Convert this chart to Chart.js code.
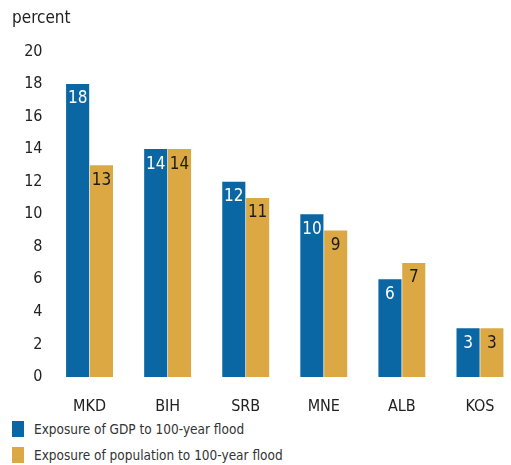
<!DOCTYPE html>
<html>
<head>
<meta charset="utf-8">
<script src="https://cdn.jsdelivr.net/npm/chart.js@4"></script>
<style>
  html, body { margin: 0; padding: 0; background: #fff; overflow: hidden; }
  body { width: 511px; }
  .wrap { position: relative; width: 519px; height: 418px; }
  .legend { font-family: "Liberation Sans Narrow", "DejaVu Sans Condensed", sans-serif; font-size: 13.5px; color: #333; margin-left: 12px; margin-top: -2px; }
  .legend__item { display: flex; align-items: center; height: 26px; }
  .legend__box { width: 12px; height: 16px; margin-right: 10px; }
</style>
</head>
<body>
<div class="wrap"><canvas id="chart1"></canvas></div>
<div class="legend" id="legend"></div>
<script>
// data
const countries = ['MKD', 'BIH', 'SRB', 'MNE', 'ALB', 'KOS'];
const gdpExposure = [18, 14, 12, 10, 6, 3];
const popExposure = [13, 14, 11, 9, 7, 3];
const seriesNames = ['Exposure of GDP to 100-year flood', 'Exposure of population to 100-year flood'];
const yTicks = [0, 2, 4, 6, 8, 10, 12, 14, 16, 18, 20];

const blue = '#0a67a3';
const gold = '#dba844';
const fontFamily = '"Liberation Sans Narrow", "DejaVu Sans Condensed", sans-serif';

// labels inside the top of each bar
const barLabels = {
    id: 'barLabels',
    afterDatasetsDraw(chart) {
        const ctx = chart.ctx;
        ctx.save();
        ctx.font = '17px ' + fontFamily;
        ctx.textAlign = 'center';
        ctx.textBaseline = 'middle';
        chart.data.datasets.forEach((ds, i) => {
            const meta = chart.getDatasetMeta(i);
            ctx.fillStyle = i === 0 ? '#fff' : '#1a1a1a';
            meta.data.forEach((bar, j) => {
                ctx.fillText(ds.data[j], bar.x, bar.y + 15);
            });
        });
        ctx.restore();
    }
};

const ctx = document.getElementById('chart1');
const chart1 = new Chart(ctx, {
    type: 'bar',
    data: {
        labels: countries,
        datasets: [{
            label: seriesNames[0],
            data: gdpExposure,
            backgroundColor: blue,
            categoryPercentage: 0.61,
            barPercentage: 0.97
        }, {
            label: seriesNames[1],
            data: popExposure,
            backgroundColor: gold,
            categoryPercentage: 0.61,
            barPercentage: 0.97
        }]
    },
    options: {
        responsive: true,
        maintainAspectRatio: false,
        animation: false,
        layout: {
            padding: { left: 12, right: 0, top: 0, bottom: 0 }
        },
        plugins: {
            legend: { display: false },
            tooltip: { enabled: false },
            title: {
                display: true,
                text: 'percent',
                align: 'start',
                color: '#222',
                font: { family: fontFamily, size: 17, weight: 'normal' },
                padding: { top: 8, bottom: 23 }
            }
        },
        scales: {
            x: {
                grid: { display: false, drawTicks: false },
                border: { display: false },
                afterFit: axis => { axis.height = 41; },
                ticks: {
                    color: '#222',
                    padding: 20,
                    font: { family: fontFamily, size: 16 }
                }
            },
            y: {
                min: 0,
                max: 20,
                afterBuildTicks: axis => {
                    axis.ticks = yTicks.map(v => ({ value: v }));
                },
                afterFit: axis => { axis.width = 38.5; },
                grid: { display: false, drawTicks: false },
                border: { display: false },
                ticks: {
                    color: '#222',
                    padding: 8,
                    font: { family: fontFamily, size: 16 }
                }
            }
        }
    },
    plugins: [barLabels]
});

// legend, one item per row
const legend = document.getElementById('legend');
[blue, gold].forEach((c, i) => {
    const item = document.createElement('div');
    item.className = 'legend__item';
    item.innerHTML = '<span class="legend__box" style="background:' + c + '"></span>' + seriesNames[i];
    legend.appendChild(item);
});
</script>
</body>
</html>
